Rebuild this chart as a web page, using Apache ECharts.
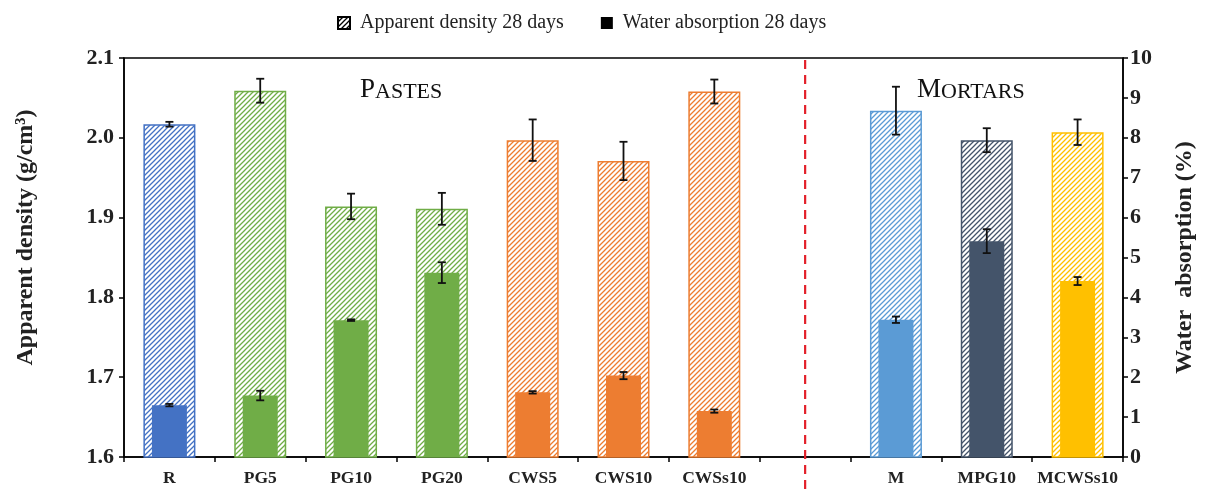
<!DOCTYPE html>
<html>
<head>
<meta charset="utf-8">
<script src="https://cdn.jsdelivr.net/npm/echarts@6/dist/echarts.min.js"></script>
<style>
html,body{margin:0;padding:0;background:#fff;}
#chart{width:1211px;height:495px;}
</style>
</head>
<body>
<div id="chart"></div>
<script>
// ---- data ----
const categories = ['R','PG5','PG10','PG20','CWS5','CWS10','CWSs10','','M','MPG10','MCWSs10'];
const density = [2.017, 2.059, 1.914, 1.911, 1.997, 1.971, 2.058, null, 2.034, 1.997, 2.007];
const densityErr = [0.003, 0.015, 0.016, 0.020, 0.026, 0.024, 0.015, null, 0.030, 0.015, 0.016];
const absorption = [1.30, 1.54, 3.43, 4.62, 1.62, 2.04, 1.15, null, 3.44, 5.41, 4.41];
const absorptionErr = [0.03, 0.12, 0.02, 0.26, 0.03, 0.09, 0.04, null, 0.08, 0.30, 0.10];
const densityTicks = {min: 1.6, max: 2.1, interval: 0.1};
const absorptionTicks = {min: 0, max: 10, interval: 1};
const dividerCategory = 7;
const groupLabels = [{main: 'P', rest: 'ASTES'}, {main: 'M', rest: 'ORTARS'}];

// ---- styles ----
const barColors = ['#4472C4','#70AD47','#70AD47','#70AD47','#ED7D31','#ED7D31','#ED7D31', null, '#5B9BD5','#44546A','#FFC000'];
const serif = "'Liberation Serif', 'DejaVu Serif', serif";

function hatch(color) {
  const s = 5;
  const c = document.createElement('canvas');
  c.width = s; c.height = s;
  const ctx = c.getContext('2d');
  ctx.fillStyle = '#fff';
  ctx.fillRect(0, 0, s, s);
  ctx.strokeStyle = color;
  ctx.lineWidth = 1.3;
  ctx.beginPath();
  ctx.moveTo(-1, 1); ctx.lineTo(1, -1);
  ctx.moveTo(0, s); ctx.lineTo(s, 0);
  ctx.moveTo(s - 1, s + 1); ctx.lineTo(s + 1, s - 1);
  ctx.stroke();
  return {image: c, repeat: 'repeat'};
}

const densityData = density.map((v, i) => v == null ? '-' : {
  value: v,
  itemStyle: {color: hatch(barColors[i]), borderColor: barColors[i]}
});
const absorptionData = absorption.map((v, i) => v == null ? '-' : {
  value: v,
  itemStyle: {color: barColors[i]}
});
const densityErrData = [];
density.forEach((v, i) => { if (v != null) densityErrData.push([i, v - densityErr[i], v + densityErr[i]]); });
const absorptionErrData = [];
absorption.forEach((v, i) => { if (v != null) absorptionErrData.push([i, v - absorptionErr[i], v + absorptionErr[i]]); });

function errorBar(params, api) {
  const x = api.value(0);
  const lo = api.coord([x, api.value(1)]);
  const hi = api.coord([x, api.value(2)]);
  const w = 4;
  const st = {stroke: '#111', lineWidth: 1.8};
  return {
    type: 'group',
    children: [
      {type: 'line', shape: {x1: lo[0], y1: lo[1], x2: hi[0], y2: hi[1]}, style: st},
      {type: 'line', shape: {x1: lo[0] - w, y1: lo[1], x2: lo[0] + w, y2: lo[1]}, style: st},
      {type: 'line', shape: {x1: hi[0] - w, y1: hi[1], x2: hi[0] + w, y2: hi[1]}, style: st}
    ]
  };
}

const chart = echarts.init(document.getElementById('chart'), null, {renderer: 'canvas'});

const axisLineStyle = {show: true, lineStyle: {color: '#000', width: 1.5}};

chart.setOption({
  animation: false,
  backgroundColor: '#fff',
  textStyle: {fontFamily: serif},
  legend: {
    top: 8,
    left: 332,
    itemWidth: 12,
    itemHeight: 12,
    itemGap: 37,
    icon: 'rect',
    textStyle: {fontFamily: serif, fontSize: 20, color: '#222', padding: [0, 0, 0, 5]},
    data: ['Apparent density 28 days', 'Water absorption 28 days']
  },
  grid: {
    left: 124, right: 88, top: 58, bottom: 38,
    show: true, borderColor: '#000', borderWidth: 1.5, backgroundColor: 'transparent'
  },
  xAxis: [{
    type: 'category',
    data: categories,
    position: 'bottom',
    axisLine: axisLineStyle,
    axisTick: {show: true, inside: false, length: 5, alignWithLabel: false, interval: 0, lineStyle: {color: '#000', width: 1.5}},
    axisLabel: {interval: 0, fontFamily: serif, fontWeight: 'bold', fontSize: 17.5, color: '#222', margin: 12},
    splitLine: {show: false}
  }, {
    type: 'category',
    data: categories,
    position: 'bottom',
    show: false
  }],
  yAxis: [{
    type: 'value',
    min: densityTicks.min, max: densityTicks.max, interval: densityTicks.interval,
    position: 'left',
    name: 'Apparent density (g/cm³)',
    nameLocation: 'middle',
    nameGap: 86,
    nameTextStyle: {fontFamily: serif, fontWeight: 'bold', fontSize: 24, color: '#222', padding: [0, 0, 0, 40]},
    axisLine: axisLineStyle,
    axisTick: {show: true, inside: false, length: 5, lineStyle: {color: '#000', width: 1.5}},
    axisLabel: {fontFamily: serif, fontWeight: 'bold', fontSize: 22, color: '#222', margin: 10,
      formatter: v => v.toFixed(1)},
    splitLine: {show: false}
  }, {
    type: 'value',
    min: absorptionTicks.min, max: absorptionTicks.max, interval: absorptionTicks.interval,
    position: 'right',
    name: 'Water  absorption (%)',
    nameLocation: 'middle',
    nameGap: 50,
    nameTextStyle: {fontFamily: serif, fontWeight: 'bold', fontSize: 24, color: '#222'},
    axisLine: axisLineStyle,
    axisTick: {show: true, inside: false, length: 5, lineStyle: {color: '#000', width: 1.5}},
    axisLabel: {fontFamily: serif, fontWeight: 'bold', fontSize: 22, color: '#222', margin: 7},
    splitLine: {show: false}
  }],
  graphic: [{
    type: 'text', left: 360, top: 76,
    style: {
      text: '{a|' + groupLabels[0].main + '}{b|' + groupLabels[0].rest + '}',
      rich: {
        a: {fontFamily: serif, fontSize: 27, fill: '#111', verticalAlign: 'bottom'},
        b: {fontFamily: serif, fontSize: 22, fill: '#111', verticalAlign: 'bottom'}
      }
    }
  }, {
    type: 'text', left: 917, top: 76,
    style: {
      text: '{a|' + groupLabels[1].main + '}{b|' + groupLabels[1].rest + '}',
      rich: {
        a: {fontFamily: serif, fontSize: 27, fill: '#111', verticalAlign: 'bottom'},
        b: {fontFamily: serif, fontSize: 22, fill: '#111', verticalAlign: 'bottom'}
      }
    }
  }],
  series: [{
    name: 'Apparent density 28 days',
    type: 'bar',
    xAxisIndex: 0, yAxisIndex: 0,
    barWidth: 52,
    z: 2,
    itemStyle: {color: hatch('#000'), borderColor: '#000', borderWidth: 1.5},
    data: densityData
  }, {
    name: 'Water absorption 28 days',
    type: 'bar',
    xAxisIndex: 1, yAxisIndex: 1,
    barWidth: 35,
    z: 3,
    itemStyle: {color: '#000'},
    data: absorptionData
  }, {
    type: 'custom',
    xAxisIndex: 0, yAxisIndex: 0,
    z: 5,
    renderItem: errorBar,
    data: densityErrData
  }, {
    type: 'custom',
    xAxisIndex: 1, yAxisIndex: 1,
    z: 5,
    renderItem: errorBar,
    data: absorptionErrData
  }, {
    type: 'custom',
    xAxisIndex: 0, yAxisIndex: 0,
    z: 6,
    clip: false,
    silent: true,
    renderItem: function (params, api) {
      const x = api.value(0);
      const top = api.coord([x, densityTicks.max]);
      const bot = api.coord([x, densityTicks.min]);
      return {
        type: 'line',
        shape: {x1: top[0], y1: top[1] + 2, x2: bot[0], y2: bot[1] + 35},
        style: {stroke: '#E3202A', lineWidth: 2.2, lineDash: [9, 6]}
      };
    },
    data: [[dividerCategory]]
  }]
});
</script>
</body>
</html>
